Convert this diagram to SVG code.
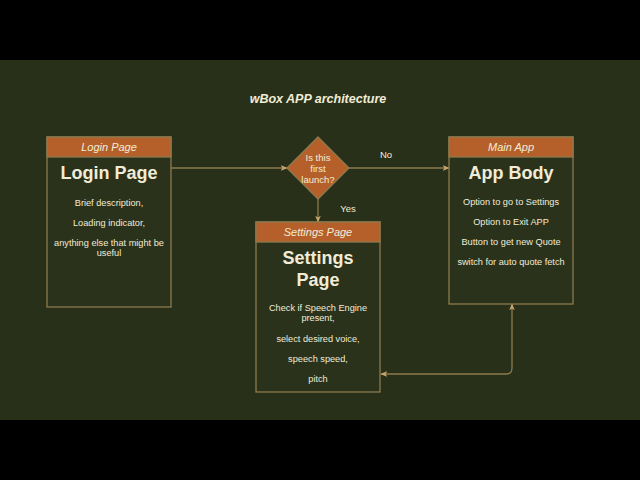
<svg xmlns="http://www.w3.org/2000/svg" width="640" height="480" viewBox="0 0 640 480">
<defs>
<style>
.t{font-family:"Liberation Sans",Arial,sans-serif;fill:#f1ecd6;text-anchor:middle}
.hd{font-size:11px;font-style:italic}
.big{font-size:18px;font-weight:bold}
.sm{font-size:9.2px}
.box{fill:#2a321c;stroke:#8c7a4e;stroke-width:1.3}
.hdr{fill:#b5602a;stroke:#8c7a4e;stroke-width:1.3}
.ln{fill:none;stroke:#8c7a4e;stroke-width:1.3}
</style>
<marker id="ah" viewBox="0 0 10 10" refX="9" refY="5" markerWidth="7" markerHeight="7" orient="auto-start-reverse" markerUnits="userSpaceOnUse">
<path d="M0,1 L10,5 L0,9 L2.5,5 Z" fill="#c9a46a"/>
</marker>
</defs>
<rect x="0" y="0" width="640" height="480" fill="#000"/>
<rect x="0" y="60" width="640" height="360" fill="#283019"/>
<text class="t" x="318" y="103" style="font-size:12.5px;font-weight:bold;font-style:italic">wBox APP architecture</text>
<g id="connectors">
<line class="ln" x1="171" y1="168" x2="287" y2="168" marker-end="url(#ah)"/>
<line class="ln" x1="349" y1="168" x2="449" y2="168" marker-end="url(#ah)"/>
<line class="ln" x1="318" y1="199" x2="318" y2="222" marker-end="url(#ah)"/>
<path class="ln" d="M512,304 L512,368 Q512,374 506,374 L381,374" marker-start="url(#ah)" marker-end="url(#ah)"/>
<text class="t" x="386" y="158" style="font-size:9.5px">No</text>
<text class="t" x="348" y="212" style="font-size:9.5px">Yes</text>
</g>
<g id="login">
<rect class="box" x="47" y="137" width="124" height="170"/>
<rect class="hdr" x="47" y="137" width="124" height="20"/>
<text class="t hd" x="109" y="151">Login Page</text>
<text class="t big" x="109" y="179">Login Page</text>
<text class="t sm" x="109" y="206">Brief description,</text>
<text class="t sm" x="109" y="226">Loading indicator,</text>
<text class="t sm" x="109" y="246">anything else that might be</text>
<text class="t sm" x="109" y="256">useful</text>
</g>
<g id="decision">
<polygon points="318,137 349,168 318,199 287,168" fill="#b5602a" stroke="#8c7a4e" stroke-width="1.3"/>
<text class="t" x="318" y="161" style="font-size:9.5px">Is this</text>
<text class="t" x="318" y="172" style="font-size:9.5px">first</text>
<text class="t" x="318" y="183" style="font-size:9.5px">launch?</text>
</g>
<g id="settings">
<rect class="box" x="256" y="222" width="124" height="170"/>
<rect class="hdr" x="256" y="222" width="124" height="20"/>
<text class="t hd" x="318" y="236">Settings Page</text>
<text class="t big" x="318" y="264">Settings</text>
<text class="t big" x="318" y="286">Page</text>
<text class="t sm" x="318" y="311">Check if Speech Engine</text>
<text class="t sm" x="318" y="321">present,</text>
<text class="t sm" x="318" y="342">select desired voice,</text>
<text class="t sm" x="318" y="362">speech speed,</text>
<text class="t sm" x="318" y="382">pitch</text>
</g>
<g id="app">
<rect class="box" x="449" y="137" width="124" height="167"/>
<rect class="hdr" x="449" y="137" width="124" height="20"/>
<text class="t hd" x="511" y="151">Main App</text>
<text class="t big" x="511" y="179">App Body</text>
<text class="t sm" x="511" y="205">Option to go to Settings</text>
<text class="t sm" x="511" y="225">Option to Exit APP</text>
<text class="t sm" x="511" y="245">Button to get new Quote</text>
<text class="t sm" x="511" y="265">switch for auto quote fetch</text>
</g>
</svg>
